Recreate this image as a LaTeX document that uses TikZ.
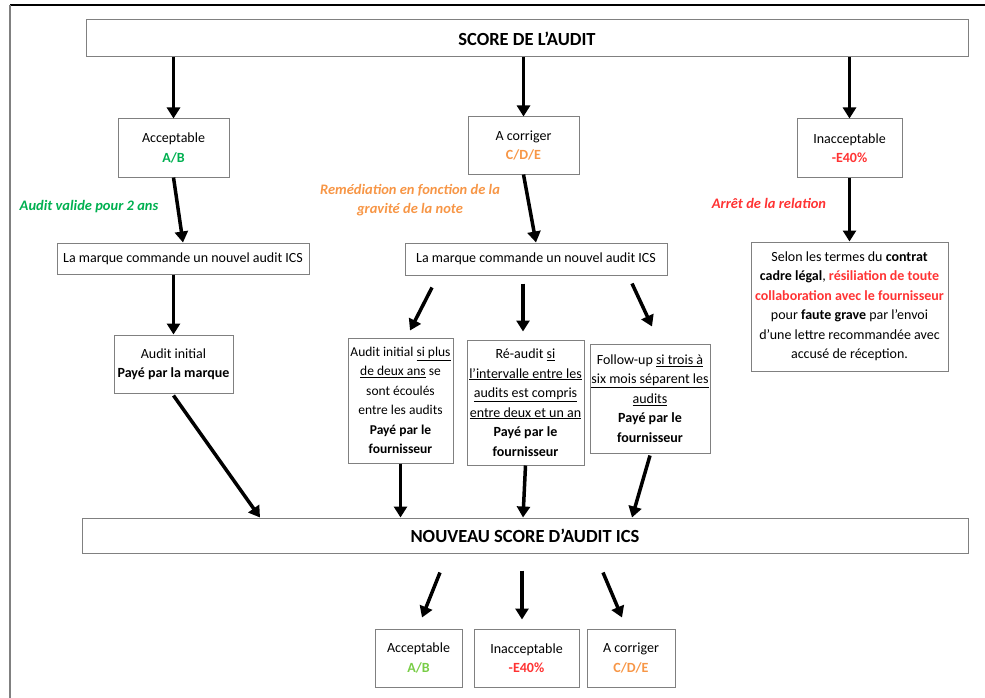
\documentclass[tikz,border=0pt]{standalone}
\usepackage{fontspec}
\setmainfont{Carlito}
\usepackage{tikz}
\usetikzlibrary{arrows.meta}

\definecolor{vert}{RGB}{0,176,80}
\definecolor{vertclair}{RGB}{120,205,70}
\definecolor{orange}{RGB}{247,150,70}
\definecolor{rouge}{RGB}{255,51,51}
\definecolor{bord}{RGB}{128,128,128}

\tikzset{
  box/.style={draw=bord, line width=1pt, rectangle, align=center, inner sep=0pt,
    font=\fontsize{14}{19.5}\selectfont},
  titre/.style={box, font=\fontsize{18.5}{20}\selectfont\bfseries},
  fleche/.style={-{Triangle[width=13pt,length=11pt]}, line width=3.5pt},
  remarque/.style={align=center, font=\fontsize{14.5}{19}\selectfont\bfseries\itshape}
}

\begin{document}
\begin{tikzpicture}[x=1pt,y=-1pt]
        \useasboundingbox (0,0) rectangle (985,698);
        \draw[line width=1.2pt] (10,5) -- (985,5);
        \draw[bord, line width=1.5pt] (10,5) -- (10,698);

        % premier niveau
        \node[titre, minimum width=882, minimum height=37] (score) at (527,38.5) {SCORE DE L'AUDIT};
        \node[box, minimum width=111, minimum height=58] (acc) at (173.5,148) {Acceptable\\\textcolor{vert}{\bfseries A/B}};
        \node[box, minimum width=111, minimum height=57] (cor) at (523.5,145.5) {A corriger\\\textcolor{orange}{\bfseries C/D/E}};
        \node[box, minimum width=105, minimum height=58] (inac) at (849.5,148) {Inacceptable\\\textcolor{rouge}{\bfseries -E40\%}};

        \draw[fleche] (score.south -| acc.north) -- (acc.north);
        \draw[fleche] (score.south -| cor.north) -- (cor.north);
        \draw[fleche] (score.south -| inac.north) -- (inac.north);

        % remarques
        \node[remarque, text=vert] (valide) at (89,207) {Audit valide pour 2 ans};
        \node[remarque, text=orange] (remed) at (410,200.5) {Remédiation en fonction de la\\gravité de la note};
        \node[remarque, text=rouge] (arret) at (769,203) {Arrêt de la relation};

        % commande
        \node[box, minimum width=252, minimum height=31] (marqueA) at (183,258.5) {La marque commande un nouvel audit ICS};
        \node[box, minimum width=262, minimum height=32] (marqueB) at (536,259) {La marque commande un nouvel audit ICS};
        \node[box, minimum width=197, minimum height=129] (resil) at (849.5,306.5) {Selon les termes du \textbf{contrat}\\\textbf{cadre légal}, \textcolor{rouge}{\bfseries résiliation de toute}\\\textcolor{rouge}{\bfseries collaboration avec le fournisseur}\\pour \textbf{faute grave} par l'envoi\\d'une lettre recommandée avec\\accusé de réception.};

        \draw[fleche] (acc.south) -- (marqueA.north);
        \draw[fleche] (cor.south) -- (marqueB.north);
        \draw[fleche] (inac.south) -- (resil.north);

        % types d'audit
        \node[box, minimum width=119, minimum height=58] (initA) at (173.5,364) {Audit initial\\\textbf{Payé par la marque}};
        \node[box, minimum width=105, minimum height=125, font=\fontsize{13.5}{19.5}\selectfont] (initB) at (400.5,400.5) {Audit initial \underline{si plus}\\\underline{de deux ans} se\\sont écoulés\\entre les audits\\\textbf{Payé par le}\\\textbf{fournisseur}};
        \node[box, minimum width=117, minimum height=125] (reaudit) at (525.5,402.5) {Ré-audit \underline{si}\\\underline{l'intervalle entre les}\\\underline{audits est compris}\\\underline{entre deux et un an}\\\textbf{Payé par le}\\\textbf{fournisseur}};
        \node[box, minimum width=120, minimum height=109] (follow) at (650,398.5) {Follow-up \underline{si trois à}\\\underline{six mois séparent les}\\\underline{audits}\\\textbf{Payé par le}\\\textbf{fournisseur}};

        \draw[fleche] (marqueA.south -| initA.north) -- (initA.north);
        \draw[fleche] ([xshift=-104pt,yshift=-12pt]marqueB.south) -- ([xshift=9.5pt,yshift=7pt]initB.north);
        \draw[fleche] ([xshift=-13pt,yshift=-8pt]marqueB.south) -- ([xshift=-2.5pt,yshift=8pt]reaudit.north);
        \draw[fleche] ([xshift=96pt,yshift=-8pt]marqueB.south) -- ([xshift=2pt,yshift=17pt]follow.north);

        % nouveau score
        \node[titre, minimum width=886, minimum height=35] (nouveau) at (525,535.5) {NOUVEAU SCORE D'AUDIT ICS};

        \draw[fleche] ([yshift=-2pt]initA.south) -- ([xshift=-265pt]nouveau.north);
        \draw[fleche] (initB.south) -- (initB.south |- nouveau.north);
        \draw[fleche] (reaudit.south) -- ([xshift=-2pt]nouveau.north);
        \draw[fleche] ([yshift=-2pt]follow.south) -- ([xshift=107pt]nouveau.north);

        % resultats
        \node[box, minimum width=87, minimum height=58] (accB) at (418.5,658) {Acceptable\\\textcolor{vertclair}{\bfseries A/B}};
        \node[box, minimum width=105, minimum height=58] (inacB) at (526.5,658) {Inacceptable\\\textcolor{rouge}{\bfseries -E40\%}};
        \node[box, minimum width=88, minimum height=58] (corB) at (631,658) {A corriger\\\textcolor{orange}{\bfseries C/D/E}};

        \draw[fleche] ([xshift=-85pt,yshift=-19pt]nouveau.south) -- ([xshift=3.5pt,yshift=11pt]accB.north);
        \draw[fleche] ([xshift=-3pt,yshift=-17pt]nouveau.south) -- ([xshift=-4.5pt,yshift=9pt]inacB.north);
        \draw[fleche] ([xshift=78pt,yshift=-19pt]nouveau.south) -- ([xshift=-9pt,yshift=11pt]corB.north);
\end{tikzpicture}
\end{document}
